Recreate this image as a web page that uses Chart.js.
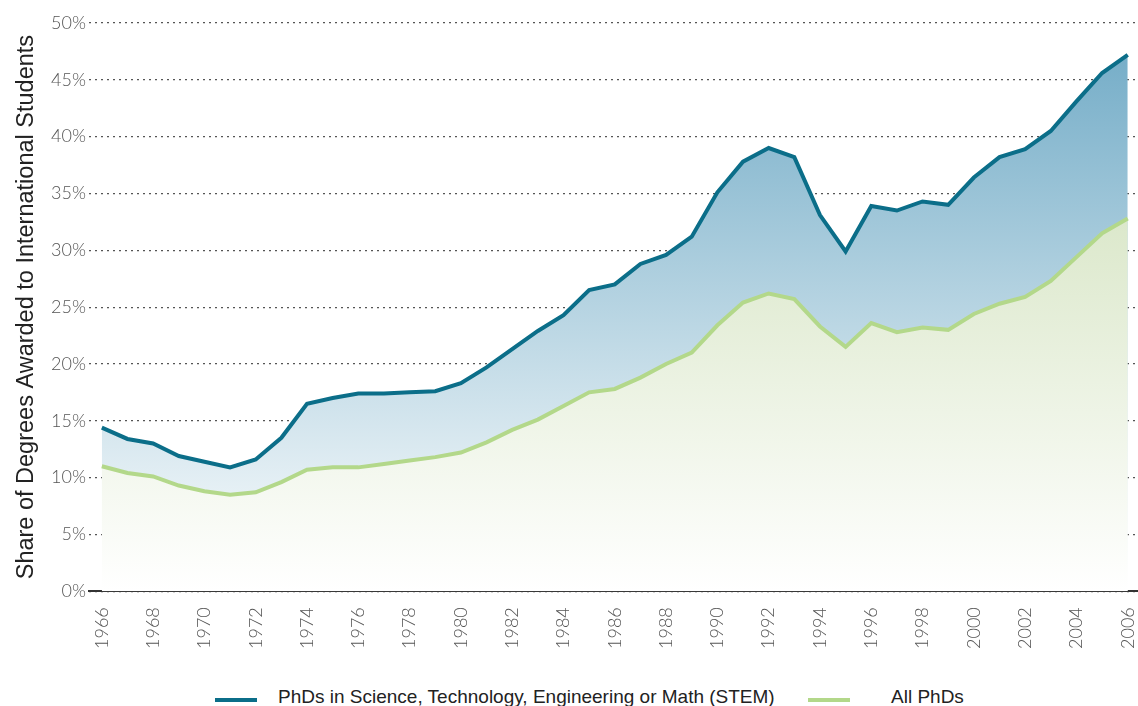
<!DOCTYPE html>
<html>
<head>
<meta charset="utf-8">
<script src="https://cdn.jsdelivr.net/npm/chart.js@4.4.1/dist/chart.umd.min.js"></script>
<style>
    body { margin: 0; background: #fff; }
    #wrap { position: relative; width: 1138px; height: 706px; overflow: hidden; }
    #canvas1 { position: absolute; left: 0; top: 0; }
    .legend-item { position: absolute; top: 686px; font-family: "Liberation Sans", Arial, sans-serif; font-size: 19px; color: #222; white-space: nowrap; }
    .swatch { position: absolute; width: 42px; height: 4px; top: 12px; }
</style>
</head>
<body>
<div id="wrap">
    <canvas id="canvas1" width="1138" height="662"></canvas>
    <div class="legend-item" style="left: 215px;">
        <span class="swatch" style="left: 0; background: #0b6e89;"></span>
        <span style="margin-left: 63px;">PhDs in Science, Technology, Engineering or Math (STEM)</span>
    </div>
    <div class="legend-item" style="left: 808px;">
        <span class="swatch" style="left: 0; background: #b3d88a;"></span>
        <span style="margin-left: 83px;">All PhDs</span>
    </div>
</div>
<script>
let years = [];
for (let y = 1966; y <= 2006; y++) {
    years.push(y);
}

let stemShare = [
    14.4, 13.4, 13.0, 11.9, 11.4, 10.9, 11.6, 13.5, 16.5, 17.0,
    17.4, 17.4, 17.5, 17.6, 18.3, 19.7, 21.3, 22.9, 24.3, 26.5,
    27.0, 28.8, 29.6, 31.2, 35.1, 37.8, 39.0, 38.2, 33.1, 29.9,
    33.9, 33.5, 34.3, 34.0, 36.4, 38.2, 38.9, 40.5, 43.1, 45.6,
    47.2
];

let allShare = [
    11.0, 10.4, 10.1, 9.3, 8.8, 8.5, 8.7, 9.6, 10.7, 10.9,
    10.9, 11.2, 11.5, 11.8, 12.2, 13.1, 14.2, 15.1, 16.3, 17.5,
    17.8, 18.8, 20.0, 21.0, 23.4, 25.4, 26.2, 25.7, 23.3, 21.5,
    23.6, 22.8, 23.2, 23.0, 24.4, 25.3, 25.9, 27.3, 29.4, 31.5,
    32.8
];

let yTicks = [0, 5, 10, 15, 20, 25, 30, 35, 40, 45, 50];

function toPoints(values) {
    return values.map(function (v, i) {
        return {x: years[i], y: v};
    });
}

function gradient(context, top, bottom) {
    let area = context.chart.chartArea;
    if (!area) {
        return top;
    }
    let g = context.chart.ctx.createLinearGradient(0, area.top, 0, area.bottom);
    g.addColorStop(0, top);
    g.addColorStop(1, bottom);
    return g;
}

let tickFont = {family: 'Lato', weight: '300', size: 18};

let ctx1 = document.getElementById('canvas1').getContext('2d');
let sharesChart = new Chart(ctx1, {
    type: 'line',
    data: {
        datasets: [
            {
                label: 'All PhDs',
                data: toPoints(allShare),
                borderColor: '#b3d88a',
                borderWidth: 4,
                pointRadius: 0,
                tension: 0,
                fill: 'origin',
                backgroundColor: function (c) {
                    return gradient(c, '#c9dcb0', '#ffffff');
                }
            },
            {
                label: 'PhDs in Science, Technology, Engineering or Math (STEM)',
                data: toPoints(stemShare),
                borderColor: '#0b6e89',
                borderWidth: 4,
                pointRadius: 0,
                tension: 0,
                fill: 'origin',
                backgroundColor: function (c) {
                    return gradient(c, '#6ea9c5', '#ffffff');
                }
            }
        ]
    },
    options: {
        responsive: false,
        animation: false,
        layout: {padding: {top: 23, left: 12, right: 0, bottom: 5}},
        plugins: {
            legend: {display: false},
            tooltip: {enabled: false}
        },
        scales: {
            x: {
                type: 'linear',
                min: 1965.5,
                max: 2006.4,
                afterBuildTicks: function (scale) {
                    scale.ticks = years.filter(function (y) {
                        return y % 2 === 0;
                    }).map(function (y) {
                        return {value: y};
                    });
                },
                afterFit: function (scale) {
                    scale.paddingLeft = 0;
                    scale.paddingRight = 0;
                },
                grid: {display: false},
                border: {display: true, color: '#333', width: 2},
                ticks: {
                    font: tickFont,
                    color: '#555',
                    minRotation: 90,
                    maxRotation: 90,
                    padding: 8,
                    callback: function (v) {
                        return String(v);
                    }
                }
            },
            y: {
                min: 0,
                max: 50,
                afterBuildTicks: function (scale) {
                    scale.ticks = yTicks.map(function (v) {
                        return {value: v};
                    });
                },
                afterFit: function (scale) {
                    scale.width = 77;
                },
                grid: {
                    color: '#555',
                    lineWidth: 1.2,
                    drawTicks: false
                },
                border: {display: false, dash: [2, 4]},
                ticks: {
                    font: tickFont,
                    color: '#555',
                    padding: 3,
                    callback: function (v) {
                        return v + '%';
                    }
                },
                title: {
                    display: true,
                    text: 'Share of Degrees Awarded to International Students',
                    font: {family: 'Liberation Sans', size: 23.5},
                    color: '#222',
                    padding: {top: 0, bottom: 4}
                }
            }
        }
    }
});
</script>
</body>
</html>
